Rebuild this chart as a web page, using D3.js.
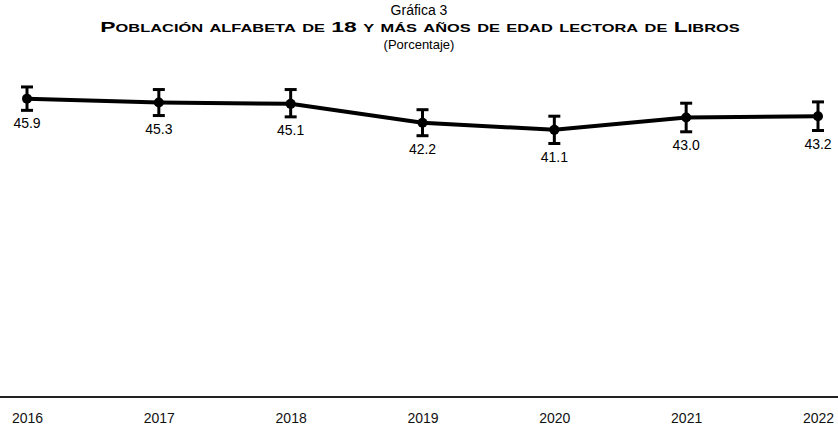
<!DOCTYPE html>
<html>
<head>
<meta charset="utf-8">
<script src="https://cdn.jsdelivr.net/npm/d3@7"></script>
<style>
  body { margin: 0; background: #fff; }
  svg { display: block; font-family: "Liberation Sans", Arial, sans-serif; }
</style>
</head>
<body>
<div id="chart"></div>
<script>
var years = ["2016", "2017", "2018", "2019", "2020", "2021", "2022"]
var values = [45.9, 45.3, 45.1, 42.2, 41.1, 43.0, 43.2]
var lower = [44.1, 43.3, 43.1, 40.2, 39.0, 40.8, 41.0]
var upper = [47.7, 47.3, 47.3, 44.2, 43.2, 45.2, 45.4]

var width = 838, height = 427

var svg = d3.select("#chart").append("svg")
    .attr("width", width)
    .attr("height", height)

var x = d3.scalePoint()
    .domain(years)
    .range([27, 818])

var y = d3.scaleLinear()
    .domain([0, 50])
    .range([397, 72])

var data = years.map(function(d, i) {
    return { year: d, v: values[i], lo: lower[i], hi: upper[i] }
})

// titles
svg.append("text")
    .attr("x", 419).attr("y", 15)
    .attr("text-anchor", "middle")
    .style("font-size", "14px")
    .text("Gráfica 3")

// the title face is a wide bold one, so stretch it sideways
var title = svg.append("text")
    .attr("text-anchor", "middle")
    .style("font-size", "15.5px")
    .style("font-weight", "bold")
    .style("font-variant", "small-caps")
    .text("Población alfabeta de 18 y más años de edad lectora de Libros")
var tw = title.node().getBBox().width
title.attr("transform", "translate(420,32) scale(" + (636 / tw) + ",1)")

svg.append("text")
    .attr("x", 419).attr("y", 49)
    .attr("text-anchor", "middle")
    .style("font-size", "13px")
    .text("(Porcentaje)")

// x axis
var xAxis = d3.axisBottom(x).tickSize(0).tickPadding(16)
var gx = svg.append("g")
    .attr("transform", "translate(0," + y(0) + ")")
    .call(xAxis)
gx.select(".domain").remove()
gx.append("line")
    .attr("x1", 0).attr("x2", width)
    .attr("stroke", "#222").attr("stroke-width", 2)
gx.selectAll(".tick text")
    .style("font-size", "14px")
    .attr("fill", "#111")
    .style("font-family", "'Liberation Sans', Arial, sans-serif")

// line
var line = d3.line()
    .x(function(d) { return x(d.year) })
    .y(function(d) { return y(d.v) })

svg.append("path")
    .datum(data)
    .attr("d", line)
    .attr("fill", "none")
    .attr("stroke", "#000")
    .attr("stroke-width", 4)

// error bars
var eb = svg.append("g").selectAll("g")
    .data(data).enter().append("g")

eb.append("line")
    .attr("x1", function(d) { return x(d.year) })
    .attr("x2", function(d) { return x(d.year) })
    .attr("y1", function(d) { return y(d.lo) })
    .attr("y2", function(d) { return y(d.hi) })
    .attr("stroke", "#000").attr("stroke-width", 3)

eb.append("line")
    .attr("x1", function(d) { return x(d.year) - 6 })
    .attr("x2", function(d) { return x(d.year) + 6 })
    .attr("y1", function(d) { return y(d.hi) })
    .attr("y2", function(d) { return y(d.hi) })
    .attr("stroke", "#000").attr("stroke-width", 3)

eb.append("line")
    .attr("x1", function(d) { return x(d.year) - 6 })
    .attr("x2", function(d) { return x(d.year) + 6 })
    .attr("y1", function(d) { return y(d.lo) })
    .attr("y2", function(d) { return y(d.lo) })
    .attr("stroke", "#000").attr("stroke-width", 3)

eb.append("circle")
    .attr("cx", function(d) { return x(d.year) })
    .attr("cy", function(d) { return y(d.v) })
    .attr("r", 5)
    .attr("fill", "#000")

// value labels
eb.append("text")
    .attr("x", function(d) { return x(d.year) })
    .attr("y", function(d) { return y(d.lo) + 18 })
    .attr("text-anchor", "middle")
    .style("font-size", "14px")
    .text(function(d) { return d3.format(".1f")(d.v) })
</script>
</body>
</html>
